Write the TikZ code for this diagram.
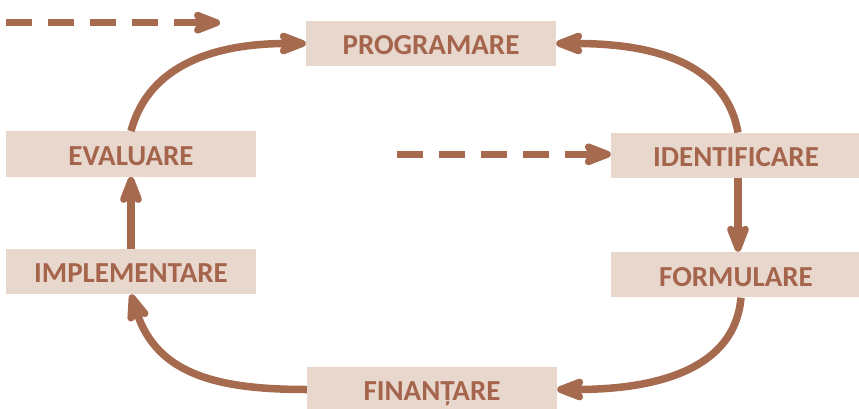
\documentclass[tikz,border=0pt]{standalone}
\usepackage{fontspec}
\setmainfont{Carlito}
\usetikzlibrary{arrows.meta}
\definecolor{flow}{RGB}{166,106,79}
\definecolor{label}{RGB}{165,100,76}
\definecolor{stage}{RGB}{232,215,205}
\begin{document}
\begin{tikzpicture}[x=1pt,y=1pt,
  stagebox/.style={fill=stage,minimum width=250pt,minimum height=45.5pt,inner sep=0pt,
    text height=22.7pt,text depth=0pt,
    text=label,font=\fontsize{29}{32}\selectfont\bfseries},
  flowline/.style={draw=flow,line width=7.5pt,
    -{Stealth[length=37pt,width=28pt,inset=9pt,round=false]}},
  feed/.style={flowline,dash pattern=on 25.5pt off 16.5pt}]
\useasboundingbox (0,0) rectangle (859,408);
\clip (0,0) rectangle (859,408);
% stages of the cycle
\node[stagebox] (prog) at (431,364.5) {PROGRAMARE};
\node[stagebox] (eval) at (131,254) {EVALUARE};
\node[stagebox] (impl) at (131,136.5) {IMPLEMENTARE};
\node[stagebox] (iden) at (736,252.5) {IDENTIFICARE};
\node[stagebox] (form) at (736,133.3) {FORMULARE};
\node[stagebox] (fin) at (432,18.5) {FINANȚARE};
% incoming dashed feeds
\coordinate (feedA) at (6,385.3);
\coordinate (feedAend) at (220,385.3);
\coordinate (feedB) at (397,253.7);
\draw[feed] (feedA) -- (feedAend);
\draw[feed] (feedB) -- (iden.west |- feedB);
% cycle connectors
\draw[flowline] (eval.north) to[out=75,in=180] (prog.west);
\draw[flowline] ([xshift=2pt]iden.north) to[out=100,in=0] (prog.east);
\draw[flowline] ([xshift=2pt]iden.south) -- ([xshift=2pt]form.north);
\draw[flowline] ([xshift=5pt]form.south) to[out=-95,in=0] (fin.east);
\draw[flowline] (fin.west) to[out=180,in=-72,looseness=1.1] (impl.south);
\draw[flowline] (impl.north) -- (eval.south);
\end{tikzpicture}
\end{document}
